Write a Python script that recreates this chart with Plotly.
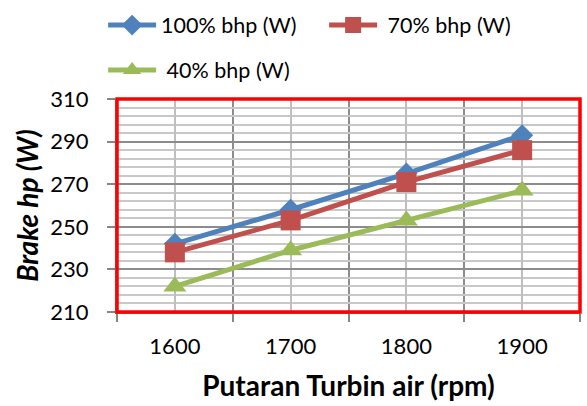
import plotly.graph_objects as go

rpm = [1600, 1700, 1800, 1900]
bhp_100 = [242, 258, 275, 293]
bhp_70 = [238, 253, 271, 286]
bhp_40 = [222, 239, 253, 267]
names = ["100% bhp (W)", "\u00a070% bhp (W)", "\u00a040% bhp (W)"]
colors = ["#4F81BD", "#C0504D", "#9BBB59"]
symbols = ["diamond", "square", "triangle-up"]
sizes = [17, 20, 20]
legends = ["legend", "legend", "legend2"]
series = [bhp_100, bhp_70, bhp_40]

FONT = "Lato"
fig = go.Figure()
for name, vals, c, s, sz, lg in zip(names, series, colors, symbols, sizes, legends):
    fig.add_trace(go.Scatter(
        x=rpm, y=vals, name=name, mode="lines+markers",
        line=dict(color=c, width=5),
        marker=dict(symbol=s, size=sz, color=c),
        legend=lg,
    ))

legend_common = dict(
    orientation="h", xanchor="left", yanchor="middle",
    font=dict(family=FONT, size=21.5, color="black"),
    bgcolor="rgba(0,0,0,0)", itemwidth=48,
)

fig.update_layout(
    width=587, height=406,
    margin=dict(l=117, r=7, t=99, b=94, autoexpand=False),
    paper_bgcolor="white", plot_bgcolor="white",
    font=dict(family=FONT, size=22, color="black"),
    showlegend=True,
    legend=dict(x=-0.03, y=1.347, entrywidth=158, entrywidthmode="pixels",
                **legend_common),
    legend2=dict(x=-0.03, y=1.136, **legend_common),
    xaxis=dict(
        range=[1550, 1950], tickvals=rpm, ticktext=[str(v) for v in rpm],
        ticks="", showgrid=True, gridcolor="#BFBFBF", gridwidth=2,
        showline=True, linecolor="#868686", linewidth=2,
        tickfont=dict(family=FONT, size=22),
        ticklabelstandoff=14,
        minor=dict(tick0=1550, dtick=100, ticks="outside", ticklen=8,
                   tickcolor="#868686", tickwidth=2,
                   showgrid=True, gridcolor="#8C8C8C", gridwidth=2),
        title=dict(text="<b>Putaran Turbin air (rpm)</b>",
                   font=dict(family=FONT, size=28), standoff=18),
        zeroline=False,
    ),
    yaxis=dict(
        range=[210, 310], tick0=210, dtick=20,
        ticks="outside", ticklen=8, tickcolor="#868686", tickwidth=2,
        showgrid=True, gridcolor="#8C8C8C", gridwidth=2,
        showline=True, linecolor="#868686", linewidth=2,
        tickfont=dict(family=FONT, size=22),
        ticklabelstandoff=14,
        minor=dict(dtick=4, tick0=210, showgrid=True, gridcolor="#C8C8C8",
                   gridwidth=2, ticks=""),
        title=dict(text="<b><i>Brake hp (W)</i></b>",
                   font=dict(family=FONT, size=28), standoff=4),
        zeroline=False,
    ),
    shapes=[dict(type="rect", xref="paper", yref="paper", x0=0, x1=1, y0=0, y1=1,
                 line=dict(color="#FF0000", width=3.5), layer="above")],
)

fig.write_html("out.html")
